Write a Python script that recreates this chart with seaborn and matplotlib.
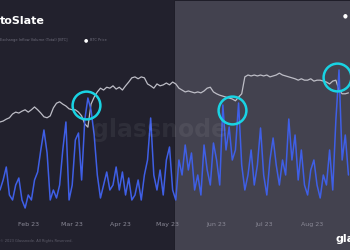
import numpy as np
import pandas as pd
import matplotlib
matplotlib.use("Agg")
import matplotlib.pyplot as plt
import matplotlib.dates as mdates
import matplotlib.transforms as mtransforms
from matplotlib.patches import Rectangle
import seaborn as sns

# ---- data (2-day samples) ----
start_date = "2023-01-14"
n_points = 112
price_k = [20.8, 21.0, 21.4, 21.7, 22.5, 22.9, 22.7, 23.1, 23.4, 22.9, 23.4, 24.0, 23.4, 22.7,
           21.9, 21.7, 22.1, 23.8, 24.8, 25.1, 24.6, 24.2, 23.6, 23.4, 23.4, 22.9, 22.1, 20.4,
           19.7, 24.6, 26.1, 27.2, 28.0, 27.6, 28.2, 28.0, 28.5, 27.8, 28.2, 27.6, 28.5, 29.3,
           30.2, 30.4, 30.0, 30.4, 30.2, 28.9, 28.5, 28.0, 28.9, 28.5, 28.7, 29.1, 28.7, 29.3,
           28.9, 28.0, 27.6, 27.2, 27.4, 27.2, 27.0, 27.2, 27.0, 27.4, 28.0, 28.2, 27.2, 26.8,
           26.5, 26.3, 26.1, 25.9, 25.7, 25.3, 26.1, 26.8, 30.4, 30.8, 30.6, 30.8, 30.6, 30.8,
           30.6, 30.8, 30.4, 30.6, 30.8, 31.2, 30.8, 30.6, 30.4, 30.2, 30.0, 29.7, 30.0, 29.7,
           29.7, 30.0, 29.5, 29.7, 29.7, 29.5, 29.3, 28.9, 29.5, 29.7, 27.6, 26.8, 26.8, 27.0]
metric = [25, 35, 48, 20, 15, 30, 37, 15, 7, 20, 15, 35, 43, 65, 85, 62, 15, 25, 17, 30,
          65, 93, 15, 30, 75, 82, 35, 95, 117, 105, 80, 40, 17, 30, 43, 25, 30, 48, 25, 43,
          20, 37, 15, 20, 35, 15, 40, 55, 97, 40, 25, 45, 20, 55, 68, 25, 15, 55, 40, 70,
          45, 62, 25, 40, 20, 70, 45, 30, 72, 55, 30, 110, 65, 88, 55, 65, 112, 50, 25, 40,
          65, 30, 50, 87, 40, 20, 55, 77, 50, 30, 55, 40, 96, 55, 80, 35, 65, 30, 20, 45,
          55, 30, 17, 40, 30, 65, 25, 95, 145, 55, 80, 40]
highlight_dates = ["2023-03-10", "2023-06-11", "2023-08-17"]
tick_months = ["2023-02-01", "2023-03-01", "2023-04-01", "2023-05-01",
               "2023-06-01", "2023-07-01", "2023-08-01"]
shade_start = "2023-05-05"

dates = pd.date_range(start_date, periods=n_points, freq="2D")
df = pd.DataFrame({"date": dates, "price": price_k, "metric": metric})

BG_DARK = "#22212d"
BG_LIGHT = "#43424f"

sns.set_theme(style="dark")
plt.rcParams["font.family"] = ["DejaVu Sans"]

fig = plt.figure(figsize=(3.5, 2.5), dpi=100, facecolor=BG_DARK)
ax = fig.add_axes([0.0, 0.14, 1.0, 0.64])
ax.set_facecolor("none")
ax2 = ax.twinx()
ax2.set_facecolor("none")

# shaded background region (full figure height)
trans = mtransforms.blended_transform_factory(ax.transData, fig.transFigure)
x0 = mdates.date2num(pd.Timestamp(shade_start))
x1 = mdates.date2num(pd.Timestamp("2023-12-31"))
fig.patches.append(Rectangle((x0, 0), x1 - x0, 1, transform=trans,
                             facecolor=BG_LIGHT, edgecolor="#1c1b26", lw=0.6, zorder=-10))

# watermark
fig.text(0.455, 0.48, "glassnode", color="#ffffff", alpha=0.06, fontsize=17,
         fontweight="bold", ha="center", va="center")

sns.lineplot(data=df, x="date", y="metric", ax=ax2, color="#3f5fe6", lw=1.1)
sns.lineplot(data=df, x="date", y="price", ax=ax, color="#bdbdc6", lw=0.9)

ax.set_ylim(1.0, 35.06)
ax2.set_ylim(0, 160)
xmin = pd.Timestamp(start_date)
xmax = pd.Timestamp("2023-08-25")
ax.set_xlim(xmin, xmax)

# highlight circles around the metric spikes
hl = df.set_index("date")
for d in highlight_dates:
    ts = pd.Timestamp(d)
    win = hl.loc[ts - pd.Timedelta(days=6): ts + pd.Timedelta(days=6)]
    ax2.plot([ts], [win["metric"].max() - 7], marker="o", ms=20,
             mfc="none", mec="#19d3e3", mew=1.8, clip_on=False, zorder=5)

ax.set_xticks(pd.to_datetime(tick_months))
ax.xaxis.set_major_formatter(mdates.DateFormatter("%b %y"))
ax.tick_params(axis="x", colors="#8b8a97", labelsize=4.5, length=0, pad=5)
ax.set_yticks([])
ax2.set_yticks([])
ax.set_xlabel("")
ax.set_ylabel("")
ax2.set_ylabel("")
for a in (ax, ax2):
    for s in a.spines.values():
        s.set_visible(False)
    a.grid(False)

# header / footer text
fig.text(0.0, 0.915, "toSlate", color="white", fontsize=8, fontweight="bold",
         ha="left", va="center")
fig.text(0.0, 0.84, "Exchange Inflow Volume (Total) [BTC]", color="#6f6e7c",
         fontsize=2.6, ha="left", va="center")
fig.text(0.245, 0.84, "\u25CF", color="white", fontsize=3.5, ha="center", va="center")
fig.text(0.258, 0.84, "BTC Price", color="#6f6e7c", fontsize=2.6, ha="left", va="center")
fig.text(0.985, 0.935, "\u25CF", color="white", fontsize=4, ha="center", va="center")
fig.text(0.0, 0.035, "\u00a9 2023 Glassnode. All Rights Reserved.", color="#5f5e6c",
         fontsize=2.6, ha="left", va="center")
fig.text(0.96, 0.045, "glassnode", color="white", fontsize=8, fontweight="bold",
         ha="left", va="center")

fig.savefig("out.png", dpi=100, facecolor=fig.get_facecolor())
